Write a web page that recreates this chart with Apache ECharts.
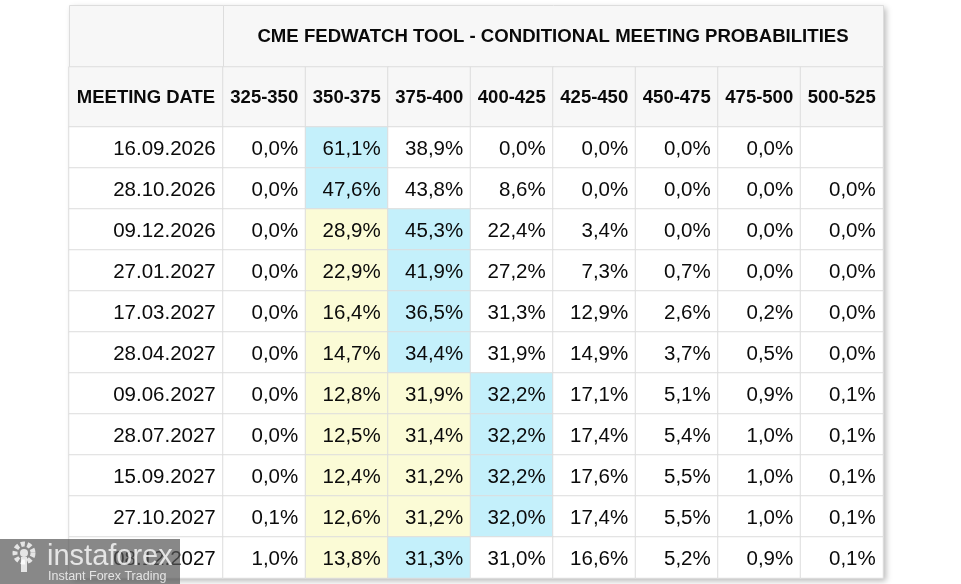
<!DOCTYPE html>
<html>
<head>
<meta charset="utf-8">
<title>CME FedWatch Tool - Conditional Meeting Probabilities</title>
<script src="https://cdn.jsdelivr.net/npm/echarts@6/dist/echarts.min.js"></script>
<style>
  html, body { margin: 0; padding: 0; background: #fff; }
  #chart { width: 961px; height: 584px; }
</style>
</head>
<body>
<div id="chart"></div>
<script>
// rate buckets (bps) and meeting dates
const buckets = ['325-350', '350-375', '375-400', '400-425', '425-450', '450-475', '475-500', '500-525']
const meetingDates = ['16.09.2026', '28.10.2026', '09.12.2026', '27.01.2027', '17.03.2027', '28.04.2027',
  '09.06.2027', '28.07.2027', '15.09.2027', '27.10.2027', '08.12.2027']
const currentBucket = '350-375'

// probabilities per meeting, %, in bucket order (null = no value)
const sep2026 = [0.0, 61.1, 38.9, 0.0, 0.0, 0.0, 0.0, null]
const oct2026 = [0.0, 47.6, 43.8, 8.6, 0.0, 0.0, 0.0, 0.0]
const dec2026 = [0.0, 28.9, 45.3, 22.4, 3.4, 0.0, 0.0, 0.0]
const jan2027 = [0.0, 22.9, 41.9, 27.2, 7.3, 0.7, 0.0, 0.0]
const mar2027 = [0.0, 16.4, 36.5, 31.3, 12.9, 2.6, 0.2, 0.0]
const apr2027 = [0.0, 14.7, 34.4, 31.9, 14.9, 3.7, 0.5, 0.0]
const jun2027 = [0.0, 12.8, 31.9, 32.2, 17.1, 5.1, 0.9, 0.1]
const jul2027 = [0.0, 12.5, 31.4, 32.2, 17.4, 5.4, 1.0, 0.1]
const sep2027 = [0.0, 12.4, 31.2, 32.2, 17.6, 5.5, 1.0, 0.1]
const oct2027 = [0.1, 12.6, 31.2, 32.0, 17.4, 5.5, 1.0, 0.1]
const dec2027 = [1.0, 13.8, 31.3, 31.0, 16.6, 5.2, 0.9, 0.1]
const probabilities = [sep2026, oct2026, dec2026, jan2027, mar2027, apr2027,
  jun2027, jul2027, sep2027, oct2027, dec2027]

const FONT = 'Arial, "Liberation Sans", sans-serif'
const BORDER = '#dddddd'
const HEAD_BG = '#f7f7f7'
const BLUE = '#c4f0fb'
const YELLOW = '#fbfbd6'
const INK = '#0a0a0a'
const WM = 'rgba(255,255,255,0.78)'

// table geometry
const tLeft = 69, dateW = 154, valW = 660
const tTop = 5, titleH = 62, headH = 60, bodyH = 451

let fmtPct = v => (v === null || v === undefined) ? '' : v.toFixed(1).replace('.', ',') + '%'

let cellColor = (row, i) => {
  let maxIdx = 0
  row.forEach((v, k) => { if (v !== null && v > row[maxIdx]) maxIdx = k })
  let cur = buckets.indexOf(currentBucket)
  if (i === maxIdx) return BLUE
  if (i >= Math.min(cur, maxIdx) && i <= Math.max(cur, maxIdx)) return YELLOW
  return '#ffffff'
}

let hiddenAxis = (type, data, gridIndex, inverse) => ({
  type: type, data: data, gridIndex: gridIndex, inverse: !!inverse,
  axisLine: { show: false }, axisTick: { show: false },
  axisLabel: { show: false }, splitLine: { show: false }, splitArea: { show: false }
})

// cells
let headDateCell = [{ value: [0, 0, 0], itemStyle: { color: HEAD_BG } }]
let headBucketCells = buckets.map((b, i) => ({ value: [i, 0, 0], itemStyle: { color: HEAD_BG } }))
let dateCells = meetingDates.map((d, j) => ({ value: [0, j, 0], itemStyle: { color: '#ffffff' } }))
let valueCells = []
probabilities.forEach((row, j) => {
  row.forEach((v, i) => {
    valueCells.push({ value: [i, j, v === null ? 0 : v], itemStyle: { color: cellColor(row, i) } })
  })
})

let baseHeatmap = {
  type: 'heatmap',
  itemStyle: { borderColor: BORDER, borderWidth: 1 },
  emphasis: { disabled: true },
  silent: true,
  progressive: 0
}

let chart = echarts.init(document.getElementById('chart'), null, { renderer: 'canvas' })
chart.setOption({
  backgroundColor: '#ffffff',
  animation: false,
  textStyle: { fontFamily: FONT },
  grid: [
    { left: tLeft, top: tTop + titleH, width: dateW, height: headH },
    { left: tLeft + dateW, top: tTop + titleH, width: valW, height: headH },
    { left: tLeft, top: tTop + titleH + headH, width: dateW, height: bodyH },
    { left: tLeft + dateW, top: tTop + titleH + headH, width: valW, height: bodyH }
  ],
  xAxis: [
    hiddenAxis('category', ['date'], 0),
    hiddenAxis('category', buckets, 1),
    hiddenAxis('category', ['date'], 2),
    hiddenAxis('category', buckets, 3)
  ],
  yAxis: [
    hiddenAxis('category', ['head'], 0),
    hiddenAxis('category', ['head'], 1),
    hiddenAxis('category', meetingDates, 2, true),
    hiddenAxis('category', meetingDates, 3, true)
  ],
  series: [
    Object.assign({}, baseHeatmap, {
      xAxisIndex: 0, yAxisIndex: 0, data: headDateCell,
      label: { show: true, offset: [0, 1], formatter: 'MEETING DATE', fontFamily: FONT, fontSize: 18.5, fontWeight: 'bold', color: INK }
    }),
    Object.assign({}, baseHeatmap, {
      xAxisIndex: 1, yAxisIndex: 1, data: headBucketCells,
      label: { show: true, offset: [0, 1], formatter: p => buckets[p.value[0]], fontFamily: FONT, fontSize: 18.5, fontWeight: 'bold', color: INK }
    }),
    Object.assign({}, baseHeatmap, {
      xAxisIndex: 2, yAxisIndex: 2, data: dateCells,
      label: { show: true, position: 'insideRight', distance: 8, offset: [0, 2], formatter: p => meetingDates[p.value[1]], fontFamily: FONT, fontSize: 20.5, color: INK }
    }),
    Object.assign({}, baseHeatmap, {
      xAxisIndex: 3, yAxisIndex: 3, data: valueCells,
      label: { show: true, position: 'insideRight', distance: 8, offset: [0, 2], formatter: p => fmtPct(probabilities[p.value[1]][p.value[0]]), fontFamily: FONT, fontSize: 20.5, color: INK }
    })
  ],
  graphic: [
    // table shadow
    { type: 'rect', z: -10, silent: true,
      shape: { x: tLeft, y: tTop, width: dateW + valW, height: titleH + headH + bodyH },
      style: { fill: '#ffffff', shadowBlur: 6, shadowOffsetX: 3, shadowOffsetY: 3, shadowColor: 'rgba(0,0,0,0.28)' } },
    // title row
    { type: 'rect', z: 1, silent: true,
      shape: { x: tLeft + 0.5, y: tTop + 0.5, width: dateW, height: titleH },
      style: { fill: HEAD_BG, stroke: BORDER, lineWidth: 1 } },
    { type: 'rect', z: 1, silent: true,
      shape: { x: tLeft + dateW + 0.5, y: tTop + 0.5, width: valW, height: titleH },
      style: { fill: HEAD_BG, stroke: BORDER, lineWidth: 1 } },
    { type: 'text', z: 2, silent: true, x: tLeft + dateW + valW / 2, y: tTop + titleH / 2 + 1,
      style: { text: 'CME FEDWATCH TOOL - CONDITIONAL MEETING PROBABILITIES', fill: INK,
        font: 'bold 18.6px ' + FONT, align: 'center', verticalAlign: 'middle' } },
    // watermark above the table
    { type: 'rect', z: 100, zlevel: 1, silent: true, shape: { x: 0, y: 539, width: 180, height: 45 }, style: { fill: 'rgba(85,85,85,0.7)' } },
    { type: 'circle', z: 101, zlevel: 1, silent: true, shape: { cx: 24, cy: 553, r: 9 }, style: { fill: 'none', stroke: WM, lineWidth: 5, lineDash: [4, 2.5] } },
    { type: 'circle', z: 101, zlevel: 1, silent: true, shape: { cx: 24, cy: 553, r: 4 }, style: { fill: WM } },
    { type: 'rect', z: 101, zlevel: 1, silent: true, shape: { x: 21, y: 557, width: 6, height: 15 }, style: { fill: WM } },
    { type: 'text', z: 101, zlevel: 1, silent: true, x: 47, y: 557, style: { text: 'instaforex', fill: WM, font: '29px ' + FONT, verticalAlign: 'middle' } },
    { type: 'text', z: 101, zlevel: 1, silent: true, x: 48, y: 577, style: { text: 'Instant Forex Trading', fill: WM, font: '12.5px ' + FONT, verticalAlign: 'middle' } }
  ]
})
</script>
</body>
</html>
